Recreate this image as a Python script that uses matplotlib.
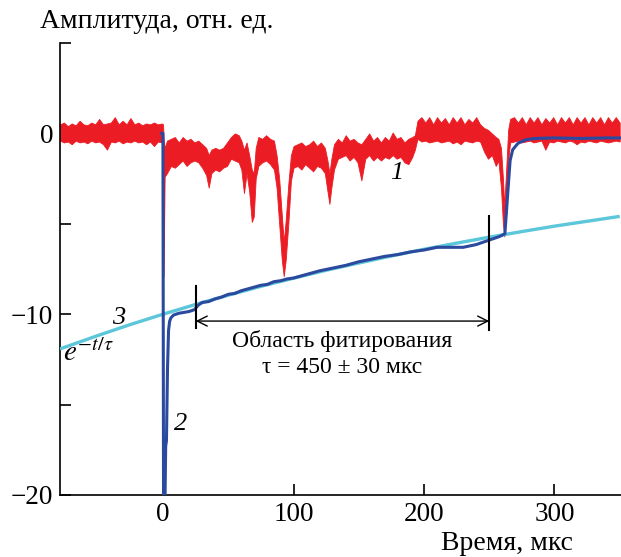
import matplotlib
matplotlib.use("Agg")
import matplotlib.pyplot as plt

plt.rcParams['font.family'] = ['Liberation Serif', 'DejaVu Serif']
plt.rcParams['mathtext.fontset'] = 'stix'

# ---- data ----
# curve 1 (red, noisy): time, upper and lower envelope of the noise band
red_t = [-79, -76, -73, -70, -67, -64, -61, -58, -55, -52, -49, -46, -43, -40, -37, -34, -31, -28,
         -25, -22, -19, -16, -13, -10, -7, -4, -1, 0, 0.4, 1.2, 3, 6, 9, 12, 15, 18, 21, 24, 27, 30,
         33, 35, 37, 40, 43, 46, 49, 52, 55, 58, 60, 62, 64, 66, 68, 69.5, 71, 73, 76, 79, 82, 85,
         87, 89, 91, 92.5, 94, 96, 98, 100, 103, 106, 109, 112, 115, 118, 121, 124, 126, 127.5, 129,
         131, 134, 137, 140, 143, 146, 149, 152, 155, 158, 161, 164, 167, 170, 173, 176, 179, 182,
         185, 188, 191, 193, 195, 198, 201, 204, 207, 210, 213, 216, 219, 222, 225, 228, 231, 234,
         237, 240, 243, 246, 249, 252, 255, 257, 259, 260.5, 261.5, 263, 264.5, 266, 269, 272, 275,
         278, 281, 284, 287, 290, 293, 296, 299, 302, 305, 308, 311, 314, 317, 320, 323, 326, 329,
         332, 335, 338, 341, 344, 347, 350]
red_hi = [0.5, 0.6, 0.4, 0.55, 0.45, 0.7, 0.5, 0.45, 0.6, 0.5, 0.8, 0.5, 0.55, 0.6, 0.9, 0.5, 0.7, 0.5,
          0.85, 0.5, 0.6, 0.45, 0.55, 0.5, 0.6, 0.5, 0.55, 0.5, -0.3, -0.8, -0.4, -0.3, -0.2, -0.5, -0.2,
          -0.4, -0.3, -0.5, -0.4, -0.6, -0.8, -1.2, -0.9, -0.8, -0.9, -0.8, -0.5, -0.2, 0.0, -0.1,
          -0.4, -0.9, -0.5, -1.2, -2.0, -2.2, -0.8, -0.2, -0.3, -0.1, -0.3, -0.4, -1.2, -2.5, -4.5,
          -6.0, -4.8, -2.8, -1.2, -0.7, -0.6, -0.5, -0.7, -0.6, -0.4, -0.7, -0.5, -0.8, -1.5, -2.2,
          -1.4, -0.6, -0.3, -0.5, -0.1, -0.4, -0.3, -0.5, -0.6, -0.3, 0.0, -0.4, -0.2, -0.5, -0.2,
          -0.4, 0.05, -0.3, -0.2, -0.5, -0.3, -0.2, -0.1, 0.7, 0.9, 0.6, 0.9, 0.5, 0.9, 0.6, 0.85,
          0.5, 0.9, 0.6, 0.9, 0.5, 0.8, 0.6, 0.9, 0.5, 0.3, 0.2, 0.0, -0.2, -0.3, -0.8, -2.5, -4.0,
          -2.0, 0.2, 0.8, 0.9, 0.6, 0.9, 0.5, 0.9, 0.6, 0.9, 0.5, 0.85, 0.6, 0.9, 0.5, 0.9, 0.6,
          0.9, 0.5, 0.9, 0.6, 0.9, 0.5, 0.9, 0.6, 0.9, 0.5, 0.9, 0.6, 0.9, 0.6]
red_lo = [-0.4, -0.5, -0.45, -0.6, -0.4, -0.5, -0.45, -0.55, -0.4, -0.5, -0.45, -0.6, -0.9, -0.45,
          -0.5, -0.4, -0.55, -0.45, -0.5, -0.4, -0.5, -0.45, -0.6, -0.45, -0.7, -0.45, -0.5, -0.5,
          -7.9, -2.4, -2.2, -1.8, -1.9, -1.7, -1.5, -1.8, -1.6, -1.5, -1.6, -1.9, -2.3, -3.0, -2.2,
          -2.0, -2.1, -1.9, -1.8, -1.4, -1.5, -1.6, -2.0, -3.3, -2.2, -3.2, -4.9, -4.6, -2.5, -1.8,
          -1.6, -1.5, -1.7, -2.0, -3.0, -5.0, -7.0, -7.9, -7.0, -5.0, -2.6, -1.9, -1.8, -2.0, -1.7,
          -1.9, -2.1, -1.8, -1.9, -2.2, -3.2, -3.9, -3.0, -2.0, -1.4, -1.3, -1.2, -1.5, -1.3, -1.6,
          -2.6, -1.4, -1.2, -1.5, -1.3, -1.5, -1.3, -1.4, -1.2, -1.4, -1.3, -1.6, -1.7, -1.3, -0.9,
          -0.3, -0.45, -0.4, -0.5, -0.45, -0.4, -0.5, -0.45, -0.4, -0.55, -0.45, -0.6, -0.4, -0.45,
          -0.5, -0.4, -0.45, -1.0, -1.4, -1.2, -1.8, -1.5, -3.0, -5.0, -5.7, -4.5, -1.5, -0.5,
          -0.45, -0.4, -0.5, -0.45, -0.4, -0.5, -0.45, -0.4, -0.9, -0.45, -0.5, -0.4, -0.45, -0.5,
          -0.4, -0.45, -0.6, -0.45, -0.5, -0.4, -0.45, -0.5, -0.4, -0.45, -0.5, -0.45, -0.4, -0.45]

# curve 2 (blue, measured signal)
blue_t = [-1, -0.1, 0.4, 1.2, 2.0, 2.6, 3.4, 4.2, 5.0, 6.0, 8.0, 12, 16, 20, 24, 27, 30, 35, 40,
          45, 50, 55, 60, 65, 70, 75, 80, 85, 90, 95, 100, 110, 120, 130, 140, 150, 160, 170, 180,
          190, 200, 210, 220, 230, 240, 250, 258, 262, 264, 266, 268, 272, 278, 285, 300, 320,
          340, 350]
blue_y = [0.0, 0.0, -22.0, -22.0, -17.3, -17.0, -13.0, -10.9, -10.4, -10.2, -10.05, -9.95, -9.9,
          -9.85, -9.75, -9.5, -9.35, -9.3, -9.15, -9.05, -8.9, -8.85, -8.7, -8.6, -8.5, -8.4,
          -8.35, -8.2, -8.15, -8.05, -8.0, -7.8, -7.6, -7.45, -7.3, -7.1, -6.95, -6.8, -6.7,
          -6.55, -6.45, -6.3, -6.3, -6.3, -6.15, -5.9, -5.7, -5.55, -3.5, -1.5, -0.9, -0.55, -0.35,
          -0.28, -0.25, -0.28, -0.25, -0.25]

# curve 3 (cyan, exponential fit e^{-t/tau}, tau = 450 us)
fit_t = [-79, -50, -25, 0, 25, 50, 75, 100, 125, 150, 175, 200, 225, 250, 275, 300, 325, 350]
fit_y = [-11.92, -11.18, -10.57, -10.0, -9.46, -8.95, -8.46, -8.01, -7.57, -7.17, -6.78, -6.41,
         -6.07, -5.74, -5.43, -5.13, -4.86, -4.59]

fit_range = [25, 250]          # fitting region bounds (us)
x_ticks = [0, 100, 200, 300]
x_ticklabels = ['0', '100', '200', '300']
y_ticks = [5, 0, -5, -10, -15, -20]
y_ticklabels = ['', '0', '', '\u221210', '', '\u221220']

RED = '#ec1c24'
BLUE = '#2b4a9f'
CYAN = '#5cc6da'

fig = plt.figure(figsize=(6.21, 5.57), dpi=100)
ax = fig.add_axes([60 / 621, 62 / 557, 561 / 621, 452 / 557])
ax.set_xlim(-79, 351)
ax.set_ylim(-20, 5)

ax.fill_between(red_t, red_lo, red_hi, color=RED, lw=0.6, edgecolor=RED, zorder=2)
ax.plot(fit_t, fit_y, color=CYAN, lw=2.4, zorder=3, solid_capstyle='butt')
ax.plot(blue_t, blue_y, color=BLUE, lw=2.2, zorder=4)

# fitting region markers
ax.plot([fit_range[0]] * 2, [-8.45, -10.75], color='black', lw=1.5, zorder=5)
ax.plot([fit_range[1]] * 2, [-4.58, -10.85], color='black', lw=1.5, zorder=5)
ax.annotate('', xy=(fit_range[0], -10.38), xytext=(fit_range[1], -10.38),
            arrowprops=dict(arrowstyle='<->', color='black', lw=1.0,
                            mutation_scale=18, shrinkA=0, shrinkB=0), zorder=5)
ax.text(137.5, -11.5, 'Область фитирования', ha='center', va='center', fontsize=17)
ax.text(137.5, -12.95, 'τ = 450 ± 30 мкс', ha='center', va='center', fontsize=17)

ax.text(179, -2.2, '1', ha='center', va='center', fontsize=19, style='italic')
ax.text(13.7, -16.1, '2', ha='center', va='center', fontsize=19, style='italic')
ax.text(-34, -10.2, '3', ha='center', va='center', fontsize=19, style='italic')
ax.text(-77, -12.6, r'$e^{-t/\tau}$', ha='left', va='baseline', fontsize=21)

for s in ['top', 'right']:
    ax.spines[s].set_visible(False)
for s in ['left', 'bottom']:
    ax.spines[s].set_linewidth(1.2)

ax.set_xticks(x_ticks)
ax.set_xticklabels(x_ticklabels)
ax.set_yticks(y_ticks)
ax.set_yticklabels(y_ticklabels)
ax.tick_params(direction='in', length=8, width=1.2, labelsize=19.5, pad=5)

fig.text(40 / 621, 0.950, 'Амплитуда, отн. ед.', ha='left', va='baseline', fontsize=20)
fig.text(573 / 621, 0.012, 'Время, мкс', ha='right', va='baseline', fontsize=20)

fig.savefig('out.png', dpi=100)
